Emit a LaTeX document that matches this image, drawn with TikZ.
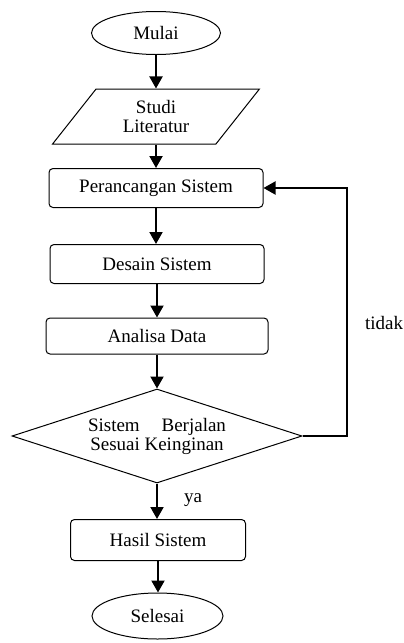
\documentclass[tikz,border=0pt]{standalone}
\usepackage{fontspec}
\setmainfont{Liberation Serif}
\usetikzlibrary{shapes.geometric,arrows.meta}
\begin{document}
\begin{tikzpicture}[x=1pt,y=-1pt,
  every node/.style={font=\fontsize{19}{19}\selectfont, text=black},
  procbox/.style={draw, line width=1pt, rounded corners=4pt, inner sep=0pt},
  termbox/.style={draw, ellipse, line width=1pt, inner sep=0pt},
  arr/.style={line width=2pt, -{Triangle[width=13pt,length=12pt]}},
  lbl/.style={inner sep=0pt}]
\useasboundingbox (0,0) rectangle (404,643);
\node[termbox, minimum width=129pt, minimum height=43pt] (mulai) at (156,33) {Mulai};
\node[draw, line width=1pt, trapezium, trapezium left angle=53.3, trapezium right angle=126.7,
  trapezium stretches=true, minimum width=207pt, minimum height=55pt, inner sep=0pt,
  align=center, font=\fontsize{19}{19}\selectfont] (studi) at (156,116.5) {Studi\\Literatur};
\node[procbox, minimum width=214pt, minimum height=39pt] (peran) at (156,188) {Perancangan Sistem};
\node[procbox, minimum width=214pt, minimum height=39pt] (desain) at (157,264) {Desain Sistem};
\node[procbox, minimum width=222pt, minimum height=36pt] (analisa) at (157,336) {Analisa Data};
\node[draw, line width=1pt, diamond, aspect=3.09, minimum width=290pt, minimum height=94pt,
  inner sep=0pt, align=center] (cek) at (157,436) {Sistem\hspace{1.15em}Berjalan\\Sesuai Keinginan};
\node[procbox, minimum width=175pt, minimum height=41pt] (hasil) at (158,540) {Hasil Sistem};
\node[termbox, minimum width=131pt, minimum height=46pt] (selesai) at (157.5,616) {Selesai};
\coordinate (loopx) at (347,0);
\node[lbl] (tidak) at (384,323) {tidak};
\node[lbl] (ya) at (193,500) {ya};
\draw[arr] (mulai.south) -- (mulai.south |- studi.north);
\draw[arr] (studi.south) -- (studi.south |- peran.north);
\draw[arr] (peran.south) -- (peran.south |- desain.north);
\draw[arr] (desain.south) -- (desain.south |- analisa.north);
\draw[arr] (analisa.south) -- (analisa.south |- cek.north);
\draw[arr] (cek.south) -- (cek.south |- hasil.north);
\draw[arr] (hasil.south) -- (hasil.south |- selesai.north);
\draw[arr] (cek.east) -- (cek.east -| loopx) |- (peran.east);
\end{tikzpicture}
\end{document}
